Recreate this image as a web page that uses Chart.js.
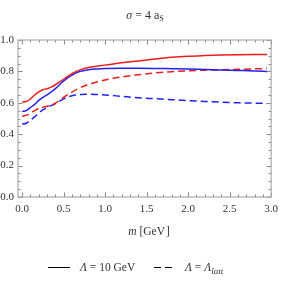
<!DOCTYPE html>
<html>
<head>
<meta charset="utf-8">
<script src="https://cdn.jsdelivr.net/npm/chart.js@4"></script>
<style>
  html, body { margin: 0; padding: 0; background: #fff; }
  #wrap { position: relative; width: 284px; height: 285px; overflow: hidden; font-family: "Liberation Serif", serif; color: #333; }
  #c { position: absolute; left: 0; top: 0; }
  .t { position: absolute; white-space: nowrap; line-height: 1; }
  .ln { position: absolute; height: 0; border-top: 1.5px solid #000; }
</style>
</head>
<body>
<div id="wrap">
  <canvas id="c" width="284" height="285"></canvas>
  <div class="t" id="title" style="left:95px; width:100px; top:9px; text-align:center; font-size:12px;"><i>σ</i> = 4 a<sub style="font-size:8px; vertical-align:-2px;">S</sub></div>
  <div class="t" id="xlab" style="left:99px; width:100px; top:226px; text-align:center; font-size:11.5px;"><i>m</i> [GeV&#8202;]</div>
  <div class="ln" style="left:48px; top:267px; width:22px;"></div>
  <div class="t" style="left:80px; top:262px; font-size:11.5px;"><i>Λ</i> = 10 GeV</div>
  <div class="ln" style="left:154px; top:267px; width:7px;"></div>
  <div class="ln" style="left:165px; top:267px; width:7px;"></div>
  <div class="t" style="left:185px; top:262px; font-size:11.5px;"><i>Λ</i> = <i>Λ</i><sub style="font-size:9px; vertical-align:-3px;"><i>latt</i></sub></div>
</div>
<script>
const mVals      = [0, 0.05, 0.1, 0.15, 0.2, 0.25, 0.3, 0.35, 0.4, 0.5, 0.6, 0.7, 0.8, 0.9, 1.0, 1.2, 1.4, 1.6, 1.8, 2.0, 2.2, 2.4, 2.6, 2.8, 2.95];
const redSolid   = [0.605, 0.608, 0.625, 0.65, 0.67, 0.683, 0.69, 0.70, 0.715, 0.75, 0.786, 0.81, 0.825, 0.833, 0.84, 0.855, 0.866, 0.879, 0.89, 0.897, 0.901, 0.904, 0.906, 0.907, 0.907];
const blueSolid  = [0.545, 0.55, 0.57, 0.59, 0.615, 0.635, 0.65, 0.67, 0.69, 0.74, 0.776, 0.80, 0.81, 0.815, 0.818, 0.82, 0.82, 0.819, 0.817, 0.815, 0.812, 0.809, 0.806, 0.803, 0.80];
const redDashed  = [0.515, 0.52, 0.535, 0.55, 0.565, 0.572, 0.578, 0.585, 0.597, 0.635, 0.668, 0.696, 0.718, 0.732, 0.745, 0.765, 0.778, 0.79, 0.798, 0.804, 0.808, 0.81, 0.813, 0.816, 0.818];
const blueDashed = [0.465, 0.47, 0.49, 0.51, 0.535, 0.555, 0.57, 0.582, 0.595, 0.625, 0.645, 0.653, 0.655, 0.653, 0.65, 0.641, 0.632, 0.626, 0.62, 0.614, 0.609, 0.604, 0.60, 0.598, 0.596];

const xTicks = [0, 0.5, 1.0, 1.5, 2.0, 2.5, 3.0];
const yTicks = [0, 0.2, 0.4, 0.6, 0.8, 1.0];
const xMinor = [0.1,0.2,0.3,0.4,0.6,0.7,0.8,0.9,1.1,1.2,1.3,1.4,1.6,1.7,1.8,1.9,2.1,2.2,2.3,2.4,2.6,2.7,2.8,2.9];
const yMinor = [0.05,0.1,0.15,0.25,0.3,0.35,0.45,0.5,0.55,0.65,0.7,0.75,0.85,0.9,0.95];

const RED = '#ee1c1c', BLUE = '#2222ee';
const SERIF = "'Liberation Serif', 'Times New Roman', serif";
const pts = arr => mVals.map((m, i) => ({x: m, y: arr[i]}));

function ds(arr, color, dashed) {
  return { data: pts(arr), borderColor: color, borderWidth: 1.5, pointRadius: 0,
           borderDash: dashed ? [7, 4] : [], cubicInterpolationMode: 'monotone', fill: false };
}

const framePlugin = {
  id: 'frame',
  afterDatasetsDraw(chart) {
    const {ctx, chartArea: a, scales: {x, y}} = chart;
    ctx.save();
    ctx.strokeStyle = '#888';
    ctx.lineWidth = 1;
    const tick = (px, len, horiz) => {
      ctx.beginPath();
      if (horiz) {
        ctx.moveTo(px, a.bottom); ctx.lineTo(px, a.bottom - len);
        ctx.moveTo(px, a.top); ctx.lineTo(px, a.top + len);
      } else {
        ctx.moveTo(a.left, px); ctx.lineTo(a.left + len, px);
        ctx.moveTo(a.right, px); ctx.lineTo(a.right - len, px);
      }
      ctx.stroke();
    };
    xTicks.forEach(v => tick(Math.round(x.getPixelForValue(v)) + 0.5, 4.5, true));
    xMinor.forEach(v => tick(Math.round(x.getPixelForValue(v)) + 0.5, 2.5, true));
    yTicks.forEach(v => tick(Math.round(y.getPixelForValue(v)) + 0.5, 4.5, false));
    yMinor.forEach(v => tick(Math.round(y.getPixelForValue(v)) + 0.5, 2.5, false));
    ctx.strokeStyle = '#aaa';
    ctx.lineWidth = 1.2;
    ctx.strokeRect(a.left, a.top, a.right - a.left, a.bottom - a.top);
    ctx.restore();
  }
};

new Chart(document.getElementById('c'), {
  type: 'line',
  data: { datasets: [ds(redSolid, RED, false), ds(blueSolid, BLUE, false), ds(redDashed, RED, true), ds(blueDashed, BLUE, true)] },
  options: {
    responsive: false, animation: false, devicePixelRatio: 1,
    layout: { padding: { left: 0, right: 11, top: 40, bottom: 0 } },
    plugins: { legend: { display: false }, tooltip: { enabled: false } },
    scales: {
      x: { type: 'linear', min: -0.05, max: 3.0,
           grid: { display: false, drawTicks: false }, border: { display: false },
           afterBuildTicks: s => { s.ticks = xTicks.map(v => ({value: v})); },
           afterFit: s => { s.height = 88; },
           ticks: { padding: 6, color: '#333', font: { family: SERIF, size: 11 }, maxRotation: 0, callback: v => v.toFixed(1) } },
      y: { type: 'linear', min: 0, max: 1.0,
           grid: { display: false, drawTicks: false }, border: { display: false },
           afterBuildTicks: s => { s.ticks = yTicks.map(v => ({value: v})); },
           afterFit: s => { s.width = 18; },
           ticks: { padding: 4, color: '#333', font: { family: SERIF, size: 11 }, callback: v => v.toFixed(1) } }
    }
  },
  plugins: [framePlugin]
});
</script>
</body>
</html>
